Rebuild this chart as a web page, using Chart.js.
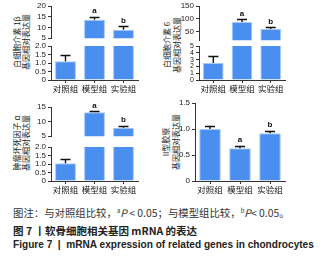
<!DOCTYPE html>
<html lang="zh">
<head>
    <meta charset="UTF-8">
    <title>软骨细胞相关基因 mRNA 的表达</title>
    <script src="https://cdn.jsdelivr.net/npm/chart.js"></script>
    <style>
        body { margin: 0; background: #fff; }
        #fig { position: relative; width: 334px; height: 261px; overflow: hidden; background: #fff; }
        #fig canvas { position: absolute; }
        .yt {
            position: absolute; white-space: nowrap; color: #222;
            font: 8px "Noto Sans CJK SC", sans-serif; line-height: 9px;
            transform: translate(-50%, -50%) rotate(-90deg);
        }
        .cap { position: absolute; left: 13px; white-space: nowrap; line-height: 14px; }
        .cap1 { top: 205px; font: 10.4px "Noto Sans CJK SC", sans-serif; color: #333; }
        .cap2 { top: 223px; font: bold 10.5px "Noto Sans CJK SC", sans-serif; color: #222; }
        .cap3 { top: 239px; font: bold 10.1px "Liberation Sans", sans-serif; color: #222; }
        .cap sup { font-size: 6px; vertical-align: 4px; line-height: 0; }
    </style>
</head>
<body>
    <div id="fig">
        <div class="yt" style="left:15.5px; top:42px">白细胞介素 1β</div>
        <div class="yt" style="left:25px; top:42px">基因相对表达量</div>
        <div class="yt" style="left:166px; top:45px">白细胞介素 6</div>
        <div class="yt" style="left:176px; top:45px">基因相对表达量</div>
        <div class="yt" style="left:15.5px; top:143px">肿瘤坏死因子 α</div>
        <div class="yt" style="left:25px; top:143px">基因相对表达量</div>
        <div class="yt" style="left:165px; top:142px">II型胶原</div>
        <div class="yt" style="left:175px; top:142px">基因相对表达量</div>

        <div class="cap cap1">图注：与对照组比较，<sup>a</sup><i>P</i> &lt; 0.05；与模型组比较，<sup>b</sup><i>P</i>&lt; 0.05。</div>
        <div class="cap cap2">图 7 丨软骨细胞相关基因 mRNA 的表达</div>
        <div class="cap cap3">Figure 7 &nbsp;|&nbsp; mRNA expression of related genes in chondrocytes</div>
    </div>

    <script>
        // groups and values (mean, top of error bar)
        const groups = ['对照组', '模型组', '实验组'];

        const il1bMean = [1.1, 13.6, 8.9];
        const il1bUpper = [1.45, 15.1, 10.6];
        const il1bSig = ['', 'a', 'b'];

        const il6Mean = [2.5, 86.6, 59.4];
        const il6Upper = [3.5, 98, 67];
        const il6Sig = ['', 'a', 'b'];

        const tnfMean = [1.05, 13.2, 7.9];
        const tnfUpper = [1.27, 13.5, 8.6];
        const tnfSig = ['', 'a', 'b'];

        const col2Mean = [1.0, 0.63, 0.92];
        const col2Upper = [1.05, 0.68, 0.97];
        const col2Sig = ['', 'a', 'b'];

        // tick labels of each axis segment (broken axes)
        const il1bTopTicks = [5, 10, 15, 20];
        const il1bLowTicks = [0, 0.5, 1, 1.5, 2];
        const il6TopTicks = [50, 100, 150];
        const il6LowTicks = [0, 1, 2, 3, 4, 5];
        const tnfTopTicks = [5, 10, 15];
        const tnfLowTicks = [0, 0.5, 1, 1.5, 2];
        const col2Ticks = [0, 0.5, 1, 1.5];

        const barFill = '#4A8FEF';
        const barEdge = '#A6C9F5';
        const axisColor = '#333';
        const cjk = '"Noto Sans CJK SC", sans-serif';
        const latin = '"Liberation Sans", Arial, sans-serif';

        // upper error bar + significance letter
        const errorBars = {
            id: 'errorBars',
            afterDatasetsDraw(chart, args, o) {
                const { ctx, chartArea: a, scales: { x, y } } = chart;
                ctx.save();
                ctx.beginPath();
                ctx.rect(a.left, a.top - 1, a.right - a.left, a.bottom - a.top + 1);
                ctx.clip();
                ctx.strokeStyle = '#111';
                ctx.lineWidth = 1.4;
                o.mean.forEach((m, i) => {
                    const px = x.getPixelForValue(i);
                    const y0 = y.getPixelForValue(m);
                    const y1 = Math.round(y.getPixelForValue(o.upper[i])) + 0.5;
                    ctx.beginPath();
                    ctx.moveTo(px, y0);
                    ctx.lineTo(px, y1);
                    ctx.moveTo(px - 5, y1);
                    ctx.lineTo(px + 5, y1);
                    ctx.stroke();
                });
                ctx.restore();

                ctx.save();
                ctx.fillStyle = '#111';
                ctx.font = 'bold 8px ' + latin;
                ctx.textAlign = 'center';
                ctx.textBaseline = 'bottom';
                o.sig.forEach((s, i) => {
                    const u = o.upper[i];
                    if (s && u >= o.range[0] && u <= o.range[1]) {
                        ctx.fillText(s, x.getPixelForValue(i), y.getPixelForValue(u) - 1.5);
                    }
                });
                ctx.restore();
            }
        };

        function addCanvas(left, top, w, h) {
            const c = document.createElement('canvas');
            c.width = w;
            c.height = h;
            c.style.left = left + 'px';
            c.style.top = top + 'px';
            c.style.width = w + 'px';
            c.style.height = h + 'px';
            document.getElementById('fig').appendChild(c);
            return c;
        }

        // one segment of a (possibly broken) y axis
        function segment(area, range, ticks, decimals, mean, upper, sig, showX, tickSize) {
            const yW = 30, padT = 9, padR = 3;
            const padB = showX ? 0 : 6;
            const xH = showX ? 17 : 0;
            const w = yW + area.right - area.left + padR;
            const h = padT + area.bottom - area.top + xH + padB;
            const canvas = addCanvas(area.left - yW, area.top - padT, w, h);

            new Chart(canvas, {
                type: 'bar',
                data: {
                    labels: groups,
                    datasets: [{
                        data: mean.map(v => v >= range[0] ? v : null),
                        backgroundColor: barFill,
                        borderColor: barEdge,
                        borderWidth: 1,
                        categoryPercentage: 0.8,
                        barPercentage: 0.9
                    }]
                },
                options: {
                    responsive: false,
                    animation: false,
                    devicePixelRatio: 1,
                    layout: { padding: { top: padT, bottom: padB, left: 0, right: padR } },
                    plugins: {
                        legend: { display: false },
                        tooltip: { enabled: false },
                        errorBars: { mean: mean, upper: upper, sig: sig, range: range }
                    },
                    scales: {
                        x: {
                            display: showX,
                            grid: { display: true, drawOnChartArea: false, tickLength: 3, color: axisColor, offset: false },
                            border: { color: axisColor, width: 1 },
                            ticks: { color: '#111', font: { family: cjk, size: 8.5 }, padding: 1, maxRotation: 0, autoSkip: false },
                            afterFit: s => { s.height = xH; }
                        },
                        y: {
                            min: range[0],
                            max: range[1],
                            afterBuildTicks: s => { s.ticks = ticks.map(v => ({ value: v })); },
                            afterFit: s => { s.width = yW; },
                            grid: { display: true, drawOnChartArea: false, tickLength: 3, color: axisColor },
                            border: { color: axisColor, width: 1 },
                            ticks: {
                                color: '#222',
                                font: { family: latin, size: tickSize },
                                padding: 2,
                                autoSkip: false,
                                callback: v => v === 0 ? '0' : v.toFixed(decimals)
                            }
                        }
                    }
                },
                plugins: [errorBars]
            });
        }

        // 白细胞介素 1β
        segment({ left: 51, right: 138, top: 6, bottom: 39 }, [5, 20], il1bTopTicks, 0, il1bMean, il1bUpper, il1bSig, false, 8);
        segment({ left: 51, right: 138, top: 46, bottom: 80 }, [0, 2], il1bLowTicks, 1, il1bMean, il1bUpper, il1bSig, true, 8);

        // 白细胞介素 6
        segment({ left: 199, right: 285, top: 6, bottom: 41 }, [15, 150], il6TopTicks, 0, il6Mean, il6Upper, il6Sig, false, 8);
        segment({ left: 199, right: 285, top: 46, bottom: 80 }, [0, 5], il6LowTicks, 0, il6Mean, il6Upper, il6Sig, true, 7);

        // 肿瘤坏死因子 α
        segment({ left: 51, right: 138, top: 107, bottom: 137 }, [5, 15], tnfTopTicks, 0, tnfMean, tnfUpper, tnfSig, false, 8);
        segment({ left: 51, right: 138, top: 147, bottom: 181 }, [0, 2], tnfLowTicks, 1, tnfMean, tnfUpper, tnfSig, true, 8);

        // II型胶原
        segment({ left: 195, right: 285, top: 103, bottom: 181 }, [0, 1.5], col2Ticks, 1, col2Mean, col2Upper, col2Sig, true, 8);
    </script>
</body>
</html>
